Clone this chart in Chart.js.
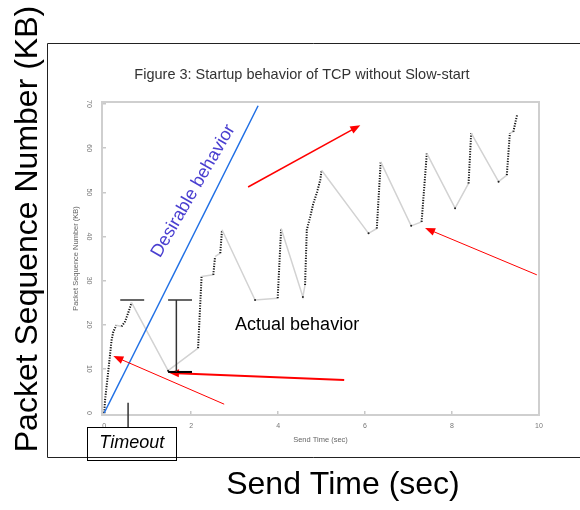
<!DOCTYPE html>
<html>
<head>
<meta charset="utf-8">
<script src="https://cdn.jsdelivr.net/npm/chart.js@4.4.1/dist/chart.umd.min.js"></script>
<style>
  html, body { margin: 0; padding: 0; background: #fff; }
  canvas { display: block; }
</style>
</head>
<body>
<canvas id="tcp-chart" width="580" height="510"></canvas>
<script>
// packet trace: send time (sec) and sequence number (KB)
const sendTime = [0.00, 0.02, 0.09, 0.13, 0.17, 0.21, 0.28, 0.40, 0.48, 0.55,
  0.63, 1.47, 2.16, 2.24, 2.51, 2.55, 2.67, 2.71, 3.47, 3.99,
  4.07, 4.57, 4.62, 4.66, 4.74, 4.81, 4.89, 4.97, 5.00, 6.08,
  6.27, 6.36, 7.06, 7.30, 7.42, 8.07, 8.38, 8.44, 9.07, 9.26,
  9.33, 9.41, 9.50];
const seqKB = [0.0, 2.9, 9.1, 12.8, 16.5, 18.4, 19.9, 19.6, 20.7, 22.6,
  25.0, 9.6, 14.7, 30.9, 31.3, 35.4, 36.2, 41.5, 25.6, 26.0,
  41.8, 26.3, 29.0, 41.5, 44.5, 47.5, 49.8, 52.8, 55.0, 40.7,
  41.8, 56.9, 42.4, 43.3, 58.8, 46.4, 52.0, 63.4, 52.4, 53.9,
  63.4, 63.7, 67.7];
// 1 = the segment ending at this point is a burst of packets (dotted), 0 = idle / timeout
const sending = [0, 1, 1, 1, 1, 1, 1, 0, 1, 1,
  1, 0, 0, 1, 0, 1, 0, 1, 0, 0,
  1, 0, 0, 1, 1, 1, 1, 1, 1, 0,
  0, 1, 0, 0, 1, 0, 0, 1, 0, 0,
  1, 0, 1];

// the hand-drawn "desirable" line
const desirableTime = [0, 3.54];
const desirableSeq = [0, 69.6];

const xTicks = [0, 2, 4, 6, 8, 10];
const yTicks = [0, 10, 20, 30, 40, 50, 60, 70];

const figTitle = "Figure 3: Startup behavior of TCP without Slow-start";
const innerXTitle = "Send Time (sec)";
const innerYTitle = "Packet Sequence Number (KB)";
const slideXTitle = "Send Time (sec)";
const slideYTitle = "Packet Sequence Number (KB)";

// slide annotations, placed in data units
const notes = {
  arrows: [
    { from: [3.31, 51.2], to: [5.89, 65.2], width: 1.5 },
    { from: [9.95, 31.3], to: [7.38, 41.9], width: 1 },
    { from: [5.52, 7.5], to: [1.49, 9.1], width: 2 },
    { from: [2.76, 2.0], to: [0.21, 12.9], width: 1 }
  ],
  bars: [
    { x0: 0.37, x1: 0.92, y: 25.6, width: 1.5, color: "#333" },
    { x0: 1.47, x1: 2.02, y: 25.6, width: 1.5, color: "#333" },
    { x0: 1.47, x1: 2.02, y: 9.3, width: 2, color: "#000" }
  ],
  stem: { x: 1.66, y0: 25.6, y1: 9.3 },
  actual: { text: "Actual behavior", x: 3.01, y: 19.9 },
  desirable: { text: "Desirable behavior", x: 2.05, y: 50.3, angle: -60 },
  timeout: { text: "Timeout", x0: -0.39, x1: 1.66, y0: -3.2, y1: -10.6, tickX: 0.55, tickTop: 2.3 }
};

function drawArrow(ctx, x0, y0, x1, y1, w) {
  const a = Math.atan2(y1 - y0, x1 - x0);
  const len = 10, half = 4;
  ctx.lineWidth = w;
  ctx.beginPath();
  ctx.moveTo(x0, y0);
  ctx.lineTo(x1 - Math.cos(a) * len * 0.8, y1 - Math.sin(a) * len * 0.8);
  ctx.stroke();
  ctx.beginPath();
  ctx.moveTo(x1, y1);
  ctx.lineTo(x1 - len * Math.cos(a) + half * Math.sin(a), y1 - len * Math.sin(a) - half * Math.cos(a));
  ctx.lineTo(x1 - len * Math.cos(a) - half * Math.sin(a), y1 - len * Math.sin(a) + half * Math.cos(a));
  ctx.closePath();
  ctx.fill();
}

const plotFrame = {
  id: "plotFrame",
  beforeDatasetsDraw(chart) {
    const { ctx, chartArea: a } = chart;
    ctx.save();
    ctx.strokeStyle = "#cfcfcf";
    ctx.lineWidth = 2;
    ctx.strokeRect(a.left, a.top, a.right - a.left, a.bottom - a.top);
    ctx.restore();
  }
};

const slideNotes = {
  id: "slideNotes",
  afterDraw(chart) {
    const ctx = chart.ctx;
    const X = v => chart.scales.x.getPixelForValue(v);
    const Y = v => chart.scales.y.getPixelForValue(v);
    ctx.save();

    // slide frame
    ctx.strokeStyle = "#222";
    ctx.lineWidth = 1;
    ctx.beginPath();
    ctx.moveTo(580, 43.5); ctx.lineTo(47.5, 43.5); ctx.lineTo(47.5, 457.5); ctx.lineTo(580, 457.5);
    ctx.stroke();

    // slide axis titles
    ctx.fillStyle = "#000";
    ctx.font = "32px 'Liberation Sans', Arial, sans-serif";
    ctx.textAlign = "center";
    ctx.textBaseline = "middle";
    ctx.fillText(slideXTitle, 343, 485);
    ctx.save();
    ctx.translate(28, 229);
    ctx.rotate(-Math.PI / 2);
    ctx.fillText(slideYTitle, 0, 0);
    ctx.restore();

    // red arrows
    ctx.strokeStyle = "#ff0000";
    ctx.fillStyle = "#ff0000";
    notes.arrows.forEach(ar => {
      drawArrow(ctx, X(ar.from[0]), Y(ar.from[1]), X(ar.to[0]), Y(ar.to[1]), ar.width);
    });

    // bracket
    notes.bars.forEach(b => {
      ctx.strokeStyle = b.color;
      ctx.lineWidth = b.width;
      ctx.beginPath();
      ctx.moveTo(X(b.x0), Y(b.y)); ctx.lineTo(X(b.x1), Y(b.y));
      ctx.stroke();
    });
    ctx.strokeStyle = "#333";
    ctx.lineWidth = 1.5;
    ctx.beginPath();
    ctx.moveTo(X(notes.stem.x), Y(notes.stem.y0)); ctx.lineTo(X(notes.stem.x), Y(notes.stem.y1));
    ctx.stroke();

    // texts
    ctx.fillStyle = "#000";
    ctx.font = "18px 'Liberation Sans', Arial, sans-serif";
    ctx.textAlign = "left";
    ctx.fillText(notes.actual.text, X(notes.actual.x), Y(notes.actual.y));

    ctx.save();
    ctx.fillStyle = "#4a3fd0";
    ctx.textAlign = "center";
    ctx.translate(X(notes.desirable.x), Y(notes.desirable.y));
    ctx.rotate(notes.desirable.angle * Math.PI / 180);
    ctx.fillText(notes.desirable.text, 0, 0);
    ctx.restore();

    // timeout box
    const t = notes.timeout;
    ctx.strokeStyle = "#333";
    ctx.lineWidth = 1.5;
    ctx.beginPath();
    ctx.moveTo(X(t.tickX), Y(t.tickTop)); ctx.lineTo(X(t.tickX), Y(t.y0));
    ctx.stroke();
    ctx.strokeStyle = "#000";
    ctx.lineWidth = 1;
    const bx = Math.round(X(t.x0)) + 0.5, by = Math.round(Y(t.y0)) + 0.5;
    ctx.strokeRect(bx, by, Math.round(X(t.x1) - X(t.x0)), Math.round(Y(t.y1) - Y(t.y0)));
    ctx.fillStyle = "#000";
    ctx.font = "italic 18px 'Liberation Sans', Arial, sans-serif";
    ctx.textAlign = "center";
    ctx.fillText(t.text, (X(t.x0) + X(t.x1)) / 2, (Y(t.y0) + Y(t.y1)) / 2);

    ctx.restore();
  }
};

const ctx = document.getElementById("tcp-chart").getContext("2d");
new Chart(ctx, {
  type: "line",
  data: {
    datasets: [
      {
        label: "Desirable behavior",
        data: desirableTime.map((t, i) => ({ x: t, y: desirableSeq[i] })),
        borderColor: "#1f6fe5",
        borderWidth: 1.5,
        pointRadius: 0,
        order: 1
      },
      {
        label: "Actual behavior",
        data: sendTime.map((t, i) => ({ x: t, y: seqKB[i] })),
        borderColor: "#d2d2d2",
        borderWidth: 1.5,
        tension: 0,
        pointRadius: c => (!sending[c.dataIndex] && !sending[c.dataIndex + 1] && c.dataIndex > 0 ? 1 : 0),
        pointBackgroundColor: "#222",
        pointBorderWidth: 0,
        segment: {
          borderColor: c => (sending[c.p1DataIndex] ? "#111" : undefined),
          borderDash: c => (sending[c.p1DataIndex] ? [1.2, 1.4] : undefined),
          borderWidth: c => (sending[c.p1DataIndex] ? 2 : undefined)
        },
        order: 2
      }
    ]
  },
  options: {
    responsive: false,
    animation: false,
    layout: { padding: { left: 65, right: 41, top: 0, bottom: 60 } },
    plugins: {
      legend: { display: false },
      tooltip: { enabled: false },
      title: {
        display: true,
        text: figTitle,
        color: "#333",
        font: { family: "'Liberation Sans', Arial, sans-serif", size: 14.5, weight: "normal", lineHeight: 1.2 },
        padding: { top: 66, bottom: 18.6 }
      }
    },
    scales: {
      x: {
        type: "linear",
        min: -0.05,
        max: 10,
        afterBuildTicks: s => { s.ticks = xTicks.map(v => ({ value: v })); },
        afterFit: s => { s.height = 35; },
        grid: { drawOnChartArea: false, tickLength: -4, color: "#c8c8c8", lineWidth: 1.5 },
        border: { color: "#cfcfcf", width: 2 },
        ticks: { color: "#777", padding: 11, font: { family: "'Liberation Sans', Arial, sans-serif", size: 7 } },
        title: {
          display: true, text: innerXTitle, color: "#666",
          font: { family: "'Liberation Sans', Arial, sans-serif", size: 7.5 },
          padding: { top: 0, bottom: 6 }
        }
      },
      y: {
        type: "linear",
        min: -0.45,
        max: 70.45,
        afterBuildTicks: s => { s.ticks = yTicks.map(v => ({ value: v })); },
        afterFit: s => { s.width = 37; },
        grid: { drawOnChartArea: false, tickLength: -4, color: "#c8c8c8", lineWidth: 1.5 },
        border: { color: "#cfcfcf", width: 2 },
        ticks: {
          color: "#777", padding: 13, crossAlign: "center", minRotation: -90, maxRotation: -90,
          font: { family: "'Liberation Sans', Arial, sans-serif", size: 7 }
        },
        title: {
          display: true, text: innerYTitle, color: "#666",
          font: { family: "'Liberation Sans', Arial, sans-serif", size: 7.5 },
          padding: { top: 6, bottom: 0 }
        }
      }
    }
  },
  plugins: [plotFrame, slideNotes]
});
</script>
</body>
</html>
